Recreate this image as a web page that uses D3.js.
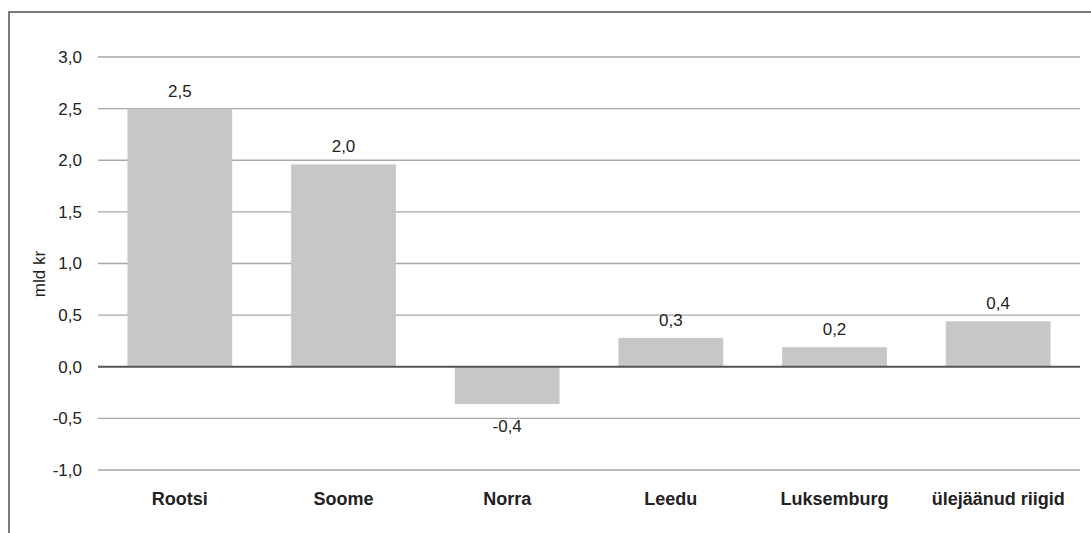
<!DOCTYPE html>
<html lang="et">
<head>
<meta charset="utf-8">
<title>mld kr</title>
<script src="https://cdn.jsdelivr.net/npm/d3@7"></script>
<style>
  body { margin: 0; background: #fff; }
  svg { font-family: "Liberation Sans", Arial, sans-serif; }
</style>
</head>
<body>
<svg id="chart" width="1091" height="533"></svg>
<script>
// andmed
var categories = ["Rootsi", "Soome", "Norra", "Leedu", "Luksemburg", "ülejäänud riigid"];
var values = [2.5, 1.96, -0.36, 0.28, 0.19, 0.44];
var yTicks = [-1.0, -0.5, 0.0, 0.5, 1.0, 1.5, 2.0, 2.5, 3.0];

var svg = d3.select("#chart");
var plotL = 98, plotR = 1080, plotT = 57, plotB = 470;

// raam
svg.append("path")
  .attr("d", "M9,533 V12 H1091")
  .attr("fill", "none")
  .attr("stroke", "#7a7a7a")
  .attr("stroke-width", 2);

var x = d3.scaleBand().domain(categories).range([plotL, plotR]).paddingInner(0.36).paddingOuter(0.18);
var y = d3.scaleLinear().domain([-1, 3]).range([plotB, plotT]);

var fmt = function (v) { return v.toFixed(1).replace(".", ","); };

// ruudustik
svg.append("g").selectAll("line")
  .data(yTicks.filter(function (d) { return d !== 0; }))
  .enter().append("line")
  .attr("x1", plotL).attr("x2", plotR)
  .attr("y1", function (d) { return y(d); })
  .attr("y2", function (d) { return y(d); })
  .attr("stroke", "#a8a8a8")
  .attr("stroke-width", 1.3);

// y-telje sildid
var yAxis = svg.append("g")
  .attr("transform", "translate(" + plotL + ",0)")
  .call(d3.axisLeft(y).tickValues(yTicks).tickSize(0).tickPadding(16).tickFormat(fmt));
yAxis.select(".domain").remove();
yAxis.selectAll("text").attr("font-size", 17).attr("fill", "#222").attr("font-family", "Liberation Sans, Arial, sans-serif");

svg.append("text")
  .attr("transform", "translate(45,274) rotate(-90)")
  .attr("text-anchor", "middle")
  .attr("font-size", 17)
  .attr("fill", "#222")
  .text("mld kr");

// tulbad
svg.append("g").selectAll("rect")
  .data(values)
  .enter().append("rect")
  .attr("x", function (d, i) { return x(categories[i]); })
  .attr("width", x.bandwidth())
  .attr("y", function (d) { return y(Math.max(0, d)); })
  .attr("height", function (d) { return Math.abs(y(d) - y(0)); })
  .attr("fill", "#c6c7c9");

// nulljoon
svg.append("line")
  .attr("x1", plotL).attr("x2", plotR)
  .attr("y1", y(0)).attr("y2", y(0))
  .attr("stroke", "#555")
  .attr("stroke-width", 2);

// väärtuste sildid
svg.append("g").selectAll("text")
  .data(values)
  .enter().append("text")
  .attr("x", function (d, i) { return x(categories[i]) + x.bandwidth() / 2; })
  .attr("y", function (d) { return d >= 0 ? y(d) - 12 : y(d) + 28; })
  .attr("text-anchor", "middle")
  .attr("font-size", 17)
  .attr("fill", "#222")
  .text(fmt);

// kategooriad
svg.append("g").selectAll("text")
  .data(categories)
  .enter().append("text")
  .attr("x", function (d) { return x(d) + x.bandwidth() / 2; })
  .attr("y", 505)
  .attr("text-anchor", "middle")
  .attr("font-size", 18)
  .attr("font-weight", "bold")
  .attr("fill", "#222")
  .text(function (d) { return d; });
</script>
</body>
</html>
